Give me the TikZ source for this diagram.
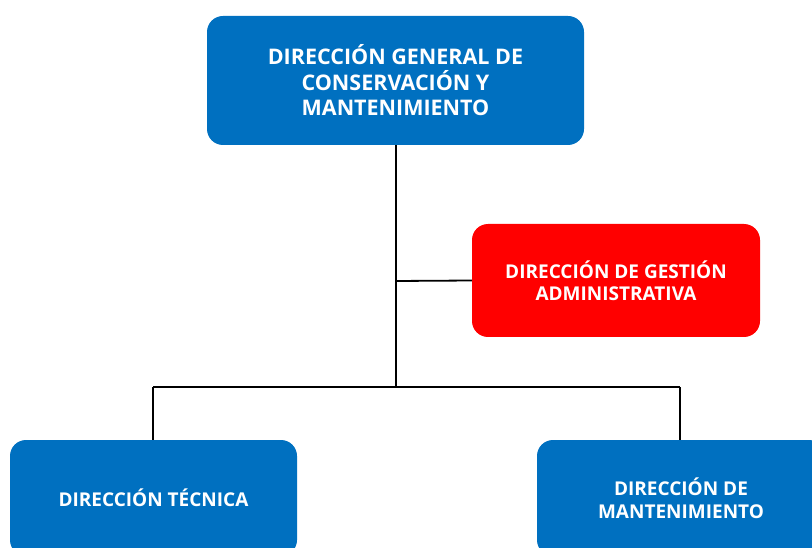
\documentclass[tikz,border=0pt]{standalone}
\usepackage{fontspec}
\setmainfont{Open Sans}
\usetikzlibrary{positioning}
\definecolor{boxblue}{RGB}{0,112,192}
\definecolor{boxred}{RGB}{255,0,0}
\tikzset{
  orgbox/.style={draw=none, rounded corners=16pt, text=white, align=center,
    font=\bfseries\fontsize{19}{22.5}\selectfont, inner sep=0pt},
  bluebox/.style={orgbox, fill=boxblue},
  redbox/.style={orgbox, fill=boxred},
  link/.style={draw=black, line width=1.8pt}
}
\begin{document}
\begin{tikzpicture}[x=1pt,y=-1pt]
\useasboundingbox (0,0) rectangle (812,548);
\begin{scope}
\clip (0,0) rectangle (812,548);
\node[bluebox, minimum width=377pt, minimum height=129pt,
  font=\bfseries\fontsize{21.5}{25.5}\selectfont] (top) at (395.5,80.5)
  {DIRECCIÓN GENERAL DE\\CONSERVACIÓN Y\\MANTENIMIENTO};
\node[redbox, minimum width=288pt, minimum height=113pt] (adm) at (616,280.5)
  {DIRECCIÓN DE GESTIÓN\\ADMINISTRATIVA};
\node[bluebox, minimum width=287pt, minimum height=116pt] (tec) at (153.5,498)
  {DIRECCIÓN TÉCNICA};
\node[bluebox, minimum width=288pt, minimum height=116pt] (man) at (681,498)
  {DIRECCIÓN DE\\MANTENIMIENTO};
\coordinate (j1) at (396,281);
\coordinate (j2) at (396,387);
\coordinate (l) at (153,387);
\coordinate (r) at (680,387);
\draw[link] (top.south -| j1) -- (j2);
\draw[link] (j1) -- (adm.west);
\draw[link] (l) -- (r);
\draw[link] (l) -- (l |- tec.north);
\draw[link] (r) -- (r |- man.north);
\end{scope}
\end{tikzpicture}
\end{document}
